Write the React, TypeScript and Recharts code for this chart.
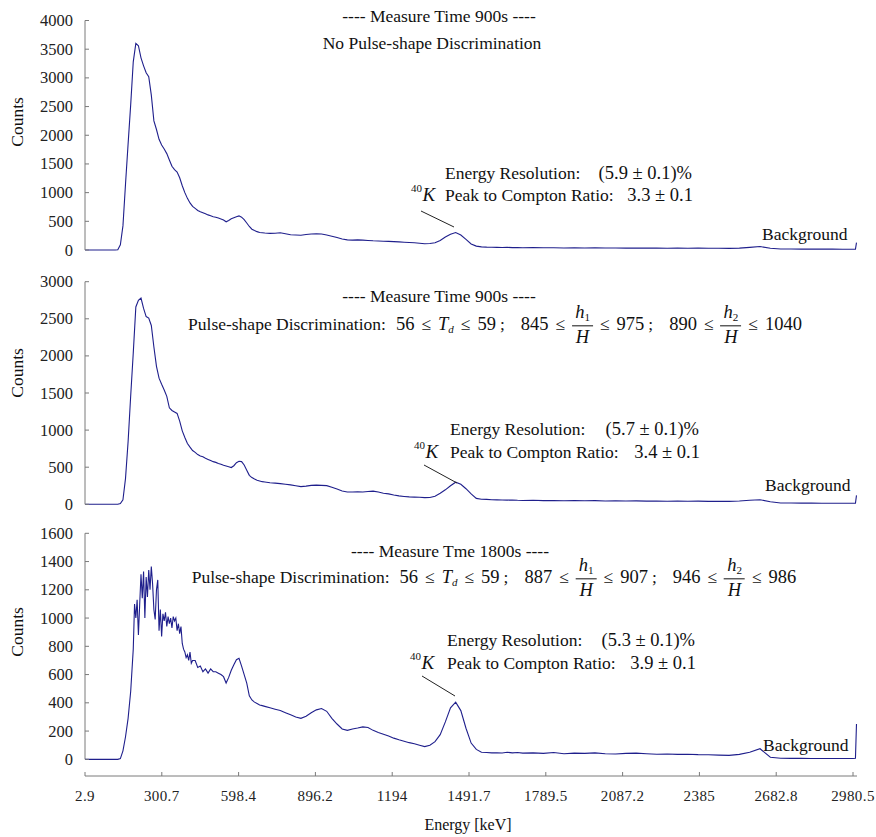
import React from 'react';
import { LineChart, Line, XAxis, YAxis, ReferenceLine } from 'recharts';

// Energy grid [keV] for the two 900 s spectra
const energy = [
  3, 40, 80,
  110, 120, 130, 140, 150, 160, 170, 180, 190, 200,
  210, 220, 230, 240, 250, 260, 270, 280, 290, 300,
  310, 320, 330, 340, 350, 360, 370, 380, 390, 400,
  410, 420, 430, 440, 450, 460, 470, 480, 490, 500,
  510, 520, 530, 540, 550, 560, 570, 580, 590, 600,
  610, 620, 630, 640, 650, 660, 670, 680, 690, 700,
  720, 740, 760, 780, 800, 820, 840, 860, 880, 900,
  920, 940, 960, 980, 1000, 1020, 1040, 1060, 1080, 1100,
  1120, 1140, 1160, 1180, 1200, 1220, 1240, 1260, 1280, 1300,
  1320, 1340, 1360, 1380, 1400, 1420, 1440, 1460, 1480, 1500,
  1520, 1540, 1560, 1580, 1600, 1620, 1640, 1660, 1680, 1700,
  1740, 1780, 1820, 1860, 1900, 1940, 1980, 2020, 2060, 2100,
  2140, 2180, 2220, 2260, 2300, 2340, 2380, 2420, 2460, 2500,
  2540, 2580, 2620, 2660, 2700, 2740, 2780, 2820, 2860, 2900,
  2940, 2980,
  2990, 2994,
];

// Top panel: 900 s, no pulse-shape discrimination
const countsNoPSD = [
  0, 0, 0,
  0, 0, 5, 90, 420, 1150, 1850, 2530, 3280, 3600,
  3560, 3350, 3210, 3090, 3020, 2700, 2250, 2100, 1930, 1830,
  1760, 1680, 1570, 1460, 1400, 1360, 1260, 1120, 1000, 900,
  820, 760, 725, 690, 668, 650, 632, 612, 596, 580,
  572, 556, 540, 522, 492, 515, 545, 562, 578, 595,
  572, 528, 470, 410, 362, 340, 320, 305, 300, 295,
  290, 292, 300, 282, 266, 262, 258, 270, 280, 282,
  278, 262, 240, 218, 192, 176, 172, 176, 172, 166,
  160, 158, 153, 150, 146, 142, 136, 130, 126, 118,
  108, 112, 125, 165, 225, 275, 305, 262, 185, 105,
  68, 55, 50, 48, 46, 44, 46, 42, 44, 40,
  42, 38, 40, 36, 38, 35, 37, 34, 36, 33,
  35, 32, 34, 31, 33, 30, 32, 30, 31, 28,
  32, 45, 60, 30, 18, 17, 16, 16, 15, 15,
  14, 14,
  15, 130,
];

// Middle panel: 900 s, with pulse-shape discrimination
const countsPSD900 = [
  0, 0, 0,
  0, 0, 0, 10, 60, 350, 845, 1460, 2040, 2660,
  2750, 2780, 2640, 2530, 2510, 2410, 2120, 1860, 1700, 1617,
  1540, 1455, 1300, 1265, 1245, 1225, 1120, 990, 900, 820,
  770, 725, 700, 670, 650, 640, 620, 605, 590, 575,
  565, 550, 540, 525, 515, 505, 495, 520, 560, 580,
  575, 530, 460, 390, 360, 340, 325, 315, 305, 300,
  290, 285, 278, 270, 262, 250, 238, 245, 255, 258,
  255, 252, 230, 205, 180, 166, 165, 168, 166, 172,
  178, 165, 150, 140, 125, 113, 106, 100, 97, 94,
  90, 92, 108, 150, 195, 250, 298, 270, 210, 140,
  80, 68, 66, 62, 60, 58, 56, 58, 54, 52,
  54, 50, 52, 48, 50, 47, 49, 45, 47, 44,
  46, 43, 45, 42, 44, 41, 43, 40, 42, 40,
  44, 55, 62, 35, 18, 17, 16, 16, 15, 15,
  15, 14,
  15, 120,
];

// Finer energy grid [keV] for the noisier 1800 s spectrum
const energyFine = [
  3, 40, 80,
  110, 120, 130, 140, 150, 160, 170, 180,
  190, 195, 200, 205, 210, 215, 220, 225, 230, 235,
  240, 245, 250, 255, 260, 265, 270, 275, 280, 285,
  290, 295, 300, 305, 310, 315, 320, 325, 330, 335,
  340, 345, 350, 355, 360, 365, 370, 375, 380, 385,
  390, 395, 400, 405, 410, 415, 420,
  430, 440, 450, 460, 470, 480, 490, 500,
  510, 520, 530, 540, 550, 560, 570, 580, 590, 600,
  610, 620, 630, 640, 650, 660, 670, 680, 690, 700,
  720, 740, 760, 780, 800, 820, 840, 860, 880, 900,
  920, 940, 960, 980, 1000, 1020, 1040, 1060, 1080, 1100,
  1120, 1140, 1160, 1180, 1200, 1220, 1240, 1260, 1280, 1300,
  1320, 1340, 1360, 1380, 1400, 1420, 1440, 1460, 1480, 1500,
  1520, 1540, 1560, 1580, 1600, 1620, 1640, 1660, 1680, 1700,
  1740, 1780, 1820, 1860, 1900, 1940, 1980, 2020, 2060, 2100,
  2140, 2180, 2220, 2260, 2300, 2340, 2380, 2420, 2460, 2500,
  2540, 2580, 2620, 2660, 2700, 2740, 2780, 2820, 2860, 2900,
  2940, 2980,
  2990, 2994,
];

// Bottom panel: 1800 s, with pulse-shape discrimination
const countsPSD1800 = [
  0, 0, 0,
  0, 0, 0, 5, 60, 160, 290, 480,
  780, 1100, 1000, 1130, 880, 1100, 1310, 1140, 1330, 1000,
  1290, 1150, 1340, 1200, 1365, 1240, 1060, 990, 1200, 1270,
  910, 1060, 870, 1030, 980, 1040, 940, 1010, 960, 1000,
  930, 1010, 980, 1000, 910, 960, 890, 940, 820, 780,
  760, 720, 740, 700, 760, 680, 700,
  700, 650, 660, 620, 640, 610, 640, 620,
  620, 610, 600, 585, 540, 580, 630, 670, 705, 715,
  660, 600, 540, 450, 420, 405, 395, 385, 380, 375,
  365, 355, 345, 330, 315, 300, 290, 305, 330, 350,
  360, 340, 290, 250, 215, 205, 215, 222, 230, 225,
  205, 190, 178, 165, 150, 138, 128, 118, 110, 100,
  90, 100, 125, 175, 265, 365, 405, 345, 220, 115,
  70, 50, 48, 46, 47, 45, 50, 46, 48, 44,
  46, 42, 48, 40, 44, 42, 46, 40, 38, 42,
  44, 40, 36, 38, 35, 36, 33, 32, 30, 28,
  35, 50, 75, 15, 8, 7, 7, 6, 6, 6,
  6, 6,
  7, 250,
];

const xTicks = [2.9, 300.7, 598.4, 896.2, 1194, 1491.7, 1789.5, 2087.2, 2385, 2682.8, 2980.5];
const yTicksTop = [0, 500, 1000, 1500, 2000, 2500, 3000, 3500, 4000];
const yTicksMid = [0, 500, 1000, 1500, 2000, 2500, 3000];
const yTicksBot = [0, 200, 400, 600, 800, 1000, 1200, 1400, 1600];

const rows900 = energy.map((e, i) => ({ e, a: countsNoPSD[i], b: countsPSD900[i] }));
const rows1800 = energyFine.map((e, i) => ({ e, c: countsPSD1800[i] }));

const X_DOMAIN: [number, number] = [2.9, 2996];
const LINE = '#1f1f8c';
const AXIS = '#7a7a7a';
const SERIF = '"Liberation Serif", "Times New Roman", serif';

const YTick = (props: any) => {
  const { x, y, payload } = props;
  return (
    <g>
      <line x1={x + 12} x2={x + 16} y1={y} y2={y} stroke={AXIS} strokeWidth={1} />
      <text x={x} y={y} dy={5.5} textAnchor="end" fontFamily={SERIF} fontSize={16.5} fill="#222">
        {payload.value}
      </text>
    </g>
  );
};

const XTick = (props: any) => {
  const { x, y, payload } = props;
  return (
    <g>
      <line x1={x} x2={x} y1={y} y2={y - 4} stroke={AXIS} strokeWidth={1} />
      <text x={x} y={y + 25} textAnchor="middle" fontFamily={SERIF} fontSize={15} letterSpacing={0.4} fill="#222">
        {String(payload.value)}
      </text>
    </g>
  );
};

const Frac = ({ sub }: { sub: string }) => (
  <span style={{ display: 'inline-flex', flexDirection: 'column', alignItems: 'center', lineHeight: 1, fontSize: 18.5 }}>
    <span style={{ fontStyle: 'italic', borderBottom: '1px solid #111', padding: '0 3px 2px' }}>
      h<span style={{ fontSize: '0.6em', fontStyle: 'normal', verticalAlign: '-0.25em' }}>{sub}</span>
    </span>
    <span style={{ fontStyle: 'italic', paddingTop: 2 }}>H</span>
  </span>
);

const G = ({ w }: { w: number }) => <span style={{ display: 'inline-block', width: w }} />;

const Le = () => (
  <>
    <G w={7} />
    <span>{'\u2264'}</span>
    <G w={7} />
  </>
);

const PSDLine = ({ cx, cy, h1, h2 }: { cx: number; cy: number; h1: [string, string]; h2: [string, string] }) => (
  <div
    style={{
      position: 'absolute', left: cx, top: cy, transform: 'translate(-50%, -50%)',
      display: 'flex', alignItems: 'center', whiteSpace: 'pre',
      fontFamily: SERIF, fontSize: 17.5, lineHeight: 1, color: '#111',
    }}
  >
    <span>Pulse-shape Discrimination:</span>
    <G w={10} />
    <span style={{ fontSize: 18.5 }}>56</span>
    <Le />
    <span style={{ fontStyle: 'italic', fontSize: 18.5 }}>T</span>
    <span style={{ fontStyle: 'italic', fontSize: 11, marginTop: 10 }}>d</span>
    <Le />
    <span style={{ fontSize: 18.5 }}>59</span>
    <G w={4} />
    <span>;</span>
    <G w={16} />
    <span style={{ fontSize: 18.5 }}>{h1[0]}</span>
    <Le />
    <Frac sub="1" />
    <Le />
    <span style={{ fontSize: 18.5 }}>{h1[1]}</span>
    <G w={4} />
    <span>;</span>
    <G w={16} />
    <span style={{ fontSize: 18.5 }}>{h2[0]}</span>
    <Le />
    <Frac sub="2" />
    <Le />
    <span style={{ fontSize: 18.5 }}>{h2[1]}</span>
  </div>
);

const Panel = ({ data, dataKey, top, height, margin, yDomain, yTicks, showX }: any) => (
  <div style={{ position: 'absolute', left: 0, top }}>
    <LineChart width={876} height={height} data={data} margin={margin}>
      <XAxis
        dataKey="e"
        type="number"
        domain={X_DOMAIN}
        ticks={xTicks}
        interval={0}
        hide={!showX}
        height={40}
        axisLine={{ stroke: AXIS }}
        tickLine={false}
        tickSize={0}
        tickMargin={0}
        tick={<XTick />}
      />
      <YAxis
        type="number"
        domain={yDomain}
        ticks={yTicks}
        interval={0}
        width={85}
        axisLine={showX ? false : { stroke: AXIS }}
        tickLine={false}
        tickSize={0}
        tickMargin={12}
        tick={<YTick />}
      />
      {showX && (
        <ReferenceLine
          segment={[{ x: X_DOMAIN[0], y: 0 }, { x: X_DOMAIN[0], y: yTicks[yTicks.length - 1] }]}
          stroke={AXIS}
          ifOverflow="visible"
        />
      )}
      <Line
        dataKey={dataKey}
        type="linear"
        stroke={LINE}
        strokeWidth={1.1}
        dot={false}
        activeDot={false}
        isAnimationActive={false}
      />
    </LineChart>
  </div>
);

const T = (p: any) => <text fontFamily={SERIF} fontSize={17.5} fill="#111" {...p} />;

const Annot = ({ lx, y, val, valEnd, k40x }: any) => (
  <g>
    <T x={lx} y={y}>Energy Resolution:</T>
    <T x={valEnd} y={y} textAnchor="end" fontSize={18.5}>{val[0]}</T>
    <T x={k40x} y={y + 22.5 - 9} fontSize={11}>40</T>
    <T x={k40x + 11.5} y={y + 22.5} fontSize={19} fontStyle="italic">K</T>
    <T x={lx} y={y + 22.5}>Peak to Compton Ratio:</T>
    <T x={valEnd + 1} y={y + 22.5} textAnchor="end" fontSize={18.5}>{val[1]}</T>
  </g>
);

export default function App() {
  return (
    <div style={{ position: 'absolute', left: 0, top: 0, width: 876, height: 837, background: '#fff' }}>
      <Panel data={rows900} dataKey="a" top={0} height={262} margin={{ top: 20.5, right: 19, bottom: 12, left: 0 }}
        yDomain={[0, 4000]} yTicks={yTicksTop} showX={false} />
      <Panel data={rows900} dataKey="b" top={262} height={262} margin={{ top: 19.7, right: 19, bottom: 19.7, left: 0 }}
        yDomain={[0, 3000]} yTicks={yTicksMid} showX={false} />
      <Panel data={rows1800} dataKey="c" top={524} height={313} margin={{ top: 9.3, right: 19, bottom: 21, left: 0 }}
        yDomain={[-118, 1600]} yTicks={yTicksBot} showX={true} />

      <svg width={876} height={837} style={{ position: 'absolute', left: 0, top: 0, pointerEvents: 'none' }}>
        {/* y-axis titles */}
        <T x={23} y={122} textAnchor="middle" transform="rotate(-90, 23, 122)">Counts</T>
        <T x={23} y={373} textAnchor="middle" transform="rotate(-90, 23, 373)">Counts</T>
        <T x={23} y={632} textAnchor="middle" transform="rotate(-90, 23, 632)">Counts</T>
        <text x={468} y={830} textAnchor="middle" fontFamily={SERIF} fontSize={16} fill="#111">Energy [keV]</text>

        {/* top panel */}
        <T x={439} y={21.5} textAnchor="middle">---- Measure Time 900s ----</T>
        <T x={432} y={49} textAnchor="middle">No Pulse-shape Discrimination</T>
        <Annot lx={445} y={178.5} val={['(5.9 \u00b1 0.1)%', '3.3 \u00b1 0.1']} valEnd={692} k40x={411} />
        <line x1={421} y1={211} x2={454} y2={227} stroke="#222" strokeWidth={1} />
        <T x={762} y={240}>Background</T>

        {/* middle panel */}
        <T x={439} y={302} textAnchor="middle">---- Measure Time 900s ----</T>
        <Annot lx={450} y={435} val={['(5.7 \u00b1 0.1)%', '3.4 \u00b1 0.1']} valEnd={699} k40x={414} />
        <line x1={424} y1={465} x2={457} y2={483} stroke="#222" strokeWidth={1} />
        <T x={765} y={491}>Background</T>

        {/* bottom panel */}
        <T x={450} y={557} textAnchor="middle">---- Measure Tme 1800s ----</T>
        <Annot lx={447} y={646} val={['(5.3 \u00b1 0.1)%', '3.9 \u00b1 0.1']} valEnd={695} k40x={410} />
        <line x1={422} y1={676} x2={455} y2={696} stroke="#222" strokeWidth={1} />
        <T x={763} y={751}>Background</T>
      </svg>

      <PSDLine cx={495} cy={325} h1={['845', '975']} h2={['890', '1040']} />
      <PSDLine cx={494} cy={578} h1={['887', '907']} h2={['946', '986']} />
    </div>
  );
}
